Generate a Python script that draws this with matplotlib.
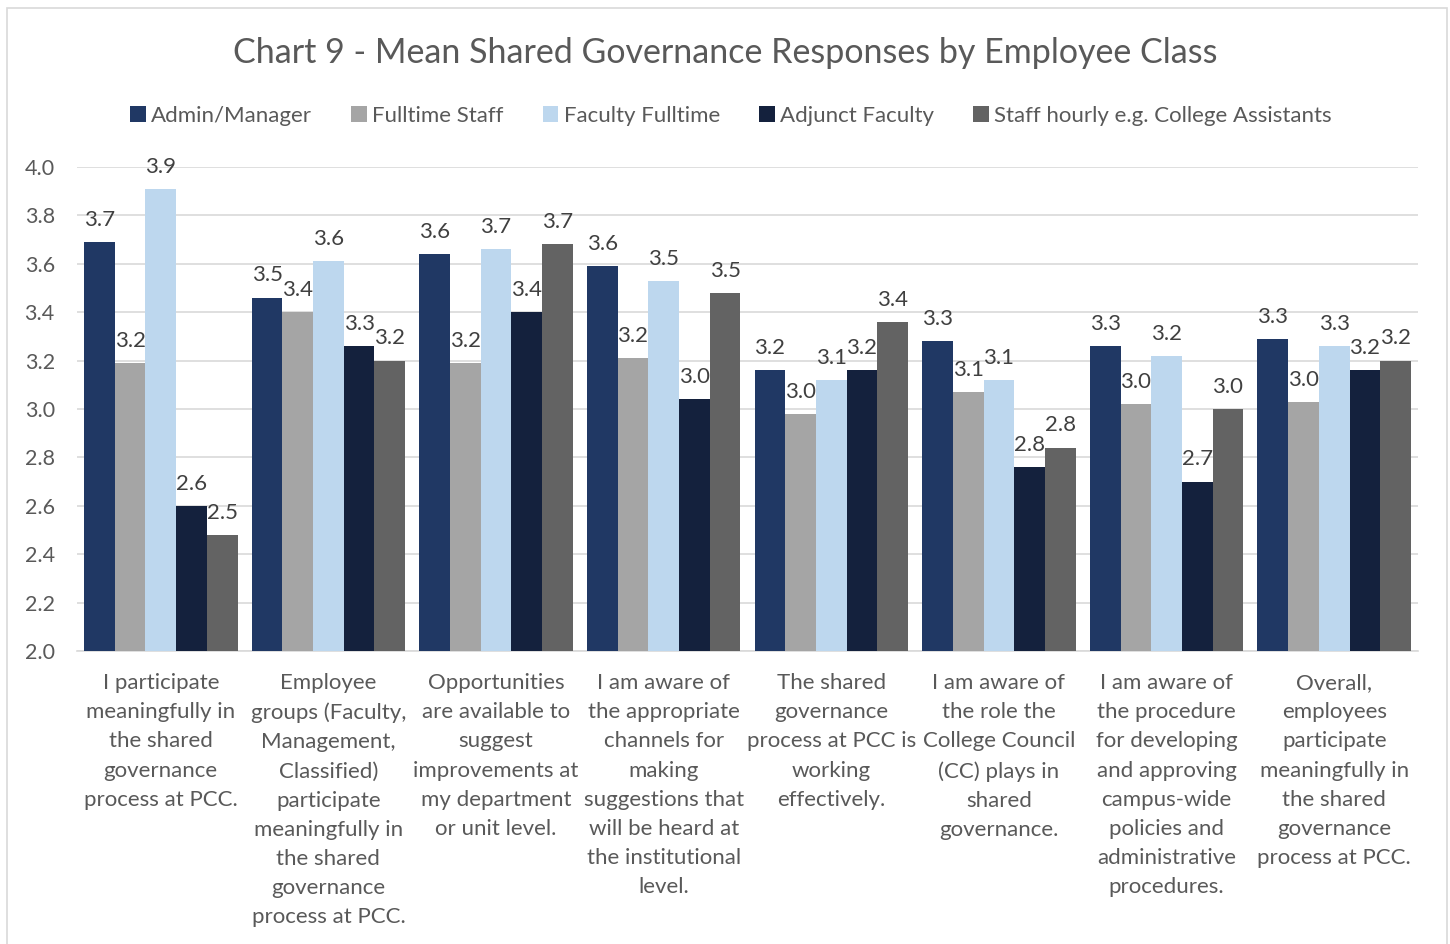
import numpy as np
import matplotlib
matplotlib.use("Agg")
import matplotlib.pyplot as plt
from matplotlib.patches import Rectangle

plt.rcParams['font.family'] = ['Lato', 'DejaVu Sans']

# Survey items (x-axis categories)
categories = [
    "I participate\nmeaningfully in\nthe shared\ngovernance\nprocess at PCC.",
    "Employee\ngroups (Faculty,\nManagement,\nClassified)\nparticipate\nmeaningfully in\nthe shared\ngovernance\nprocess at PCC.",
    "Opportunities\nare available to\nsuggest\nimprovements at\nmy department\nor unit level.",
    "I am aware of\nthe appropriate\nchannels for\nmaking\nsuggestions that\nwill be heard at\nthe institutional\nlevel.",
    "The shared\ngovernance\nprocess at PCC is\nworking\neffectively.",
    "I am aware of\nthe role the\nCollege Council\n(CC) plays in\nshared\ngovernance.",
    "I am aware of\nthe procedure\nfor developing\nand approving\ncampus-wide\npolicies and\nadministrative\nprocedures.",
    "Overall,\nemployees\nparticipate\nmeaningfully in\nthe shared\ngovernance\nprocess at PCC.",
]

series_names = ["Admin/Manager", "Fulltime Staff", "Faculty Fulltime",
                "Adjunct Faculty", "Staff hourly e.g. College Assistants"]

admin_manager = [3.69, 3.46, 3.64, 3.59, 3.16, 3.28, 3.26, 3.29]
fulltime_staff = [3.19, 3.40, 3.19, 3.21, 2.98, 3.07, 3.02, 3.03]
faculty_fulltime = [3.91, 3.61, 3.66, 3.53, 3.12, 3.12, 3.22, 3.26]
adjunct_faculty = [2.60, 3.26, 3.40, 3.04, 3.16, 2.76, 2.70, 3.16]
staff_hourly = [2.48, 3.20, 3.68, 3.48, 3.36, 2.84, 3.00, 3.20]

series_values = [admin_manager, fulltime_staff, faculty_fulltime,
                 adjunct_faculty, staff_hourly]
colors = ["#203864", "#A5A5A5", "#BDD7EE", "#14213D", "#636363"]

text_color = "#595959"

fig = plt.figure(figsize=(14.5, 9.44), dpi=100)

# light chart border like the Excel chart area
fig.patches.append(Rectangle((7 / 1450, -0.01), 1440 / 1450, 1 - 8 / 944 + 0.01,
                             transform=fig.transFigure, fill=False,
                             edgecolor="#D9D9D9", linewidth=1.2))

ax = fig.add_axes([77 / 1450, 1 - 651 / 944, 1341 / 1450, 484 / 944])

n = len(series_values)
bar_w = 0.183
x = np.arange(len(categories))
for i, (vals, name, col) in enumerate(zip(series_values, series_names, colors)):
    pos = x + (i - (n - 1) / 2) * bar_w
    ax.bar(pos, vals, width=bar_w, color=col, label=name, zorder=3, bottom=0)
    for px, v in zip(pos, vals):
        ax.annotate(f"{v:.1f}", (px, v), xytext=(0, 16), textcoords="offset points",
                    ha="center", va="center", fontsize=16, color="#404040", zorder=4)

ax.set_xlim(-0.5, len(categories) - 0.5)
ax.set_ylim(2.0, 4.0)
ticks = np.arange(2.0, 4.01, 0.2)
ax.set_yticks(ticks)
ax.set_yticklabels([f"{t:.1f}" for t in ticks])
ax.yaxis.grid(True, color="#D9D9D9", linewidth=1.2, zorder=0)
ax.set_axisbelow(True)

ax.set_xticks(x)
ax.set_xticklabels(categories, fontsize=16, color=text_color, linespacing=1.57,
                   va="top")
ax.tick_params(axis="x", length=0, pad=16)
ax.tick_params(axis="y", length=0, pad=16, labelsize=15.5, labelcolor=text_color)

for s in ["top", "right", "left"]:
    ax.spines[s].set_visible(False)
ax.spines["bottom"].set_color("#D9D9D9")
ax.spines["bottom"].set_linewidth(1.2)

fig.text(0.5, 1 - 53 / 944, "Chart 9 - Mean Shared Governance Responses by Employee Class",
         ha="center", va="center", fontsize=24.5, color=text_color)

fig.legend(loc="center", bbox_to_anchor=(731 / 1450, 1 - 116 / 944), ncol=5,
           frameon=False, fontsize=16, handlelength=0.7, handleheight=0.7,
           handletextpad=0.25, columnspacing=1.75, labelcolor=text_color)

fig.savefig("out.png", dpi=100, facecolor="white")
